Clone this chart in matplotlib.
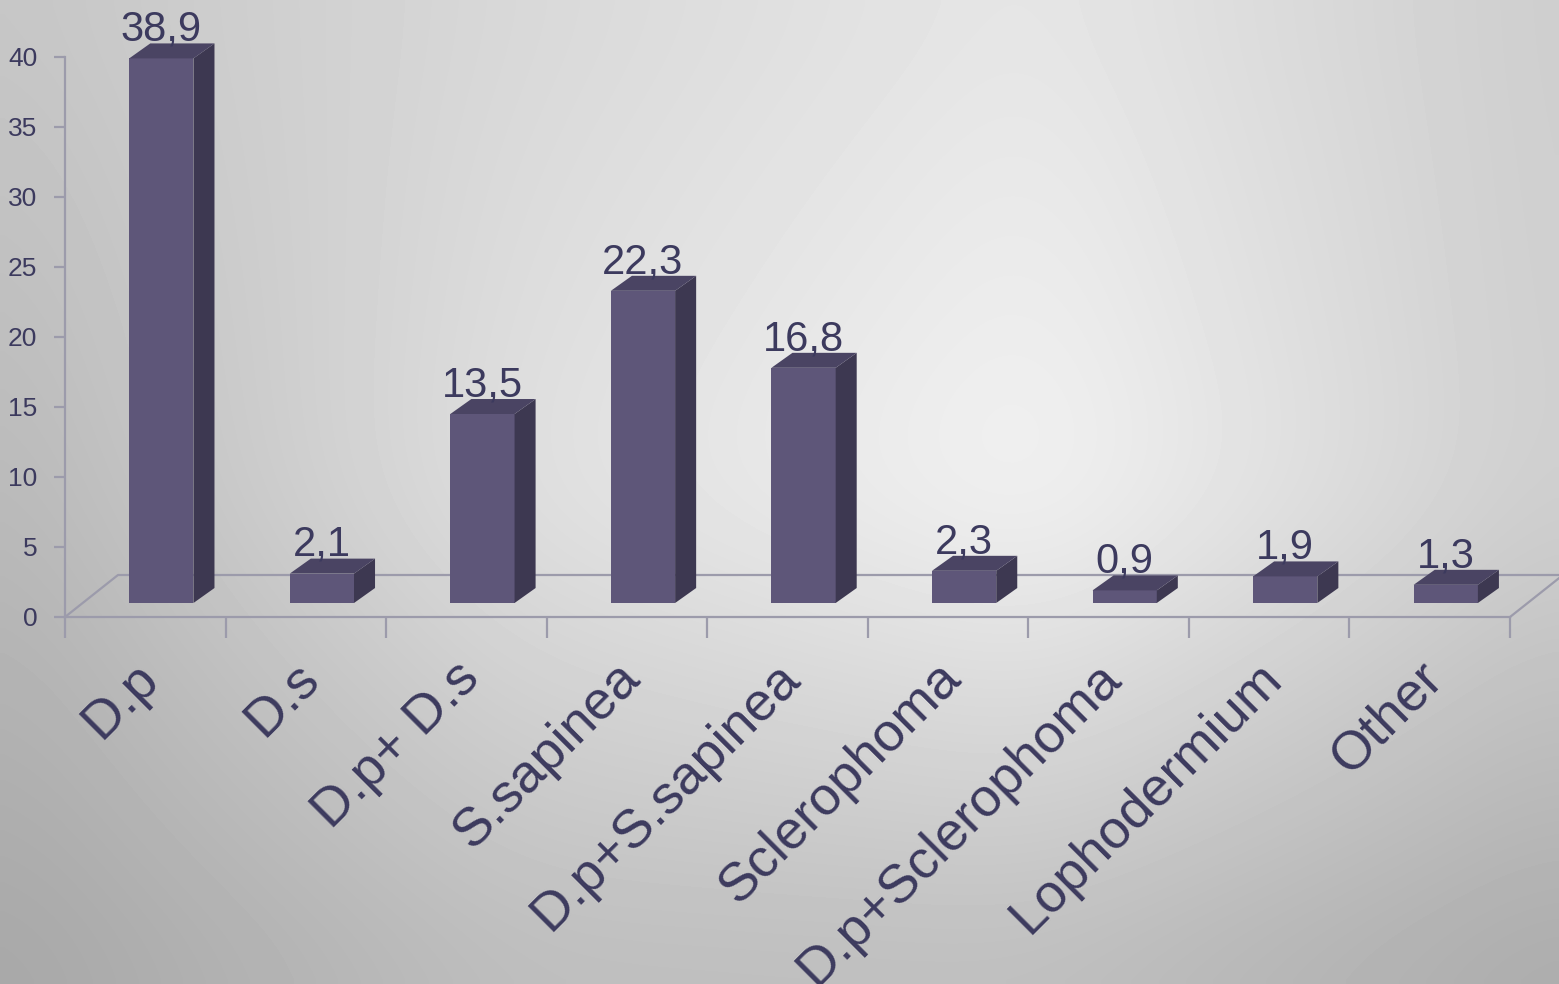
import numpy as np
import matplotlib
matplotlib.use('Agg')
import matplotlib.pyplot as plt
from matplotlib.patches import Polygon

plt.rcParams['font.family'] = ['Liberation Sans', 'DejaVu Sans']

# data
categories = ['D.p', 'D.s', 'D.p+ D.s', 'S.sapinea', 'D.p+S.sapinea',
              'Sclerophoma', 'D.p+Sclerophoma', 'Lophodermium', 'Other']
values = [38.9, 2.1, 13.5, 22.3, 16.8, 2.3, 0.9, 1.9, 1.3]
value_labels = ['38,9', '2,1', '13,5', '22,3', '16,8', '2,3', '0,9', '1,9', '1,3']
yticks = [0, 5, 10, 15, 20, 25, 30, 35, 40]

txt_color = '#3c3a5e'
front_c = '#5e5679'
side_c = '#3d3851'
top_c = '#4a4463'
line_c = '#9c9bab'

fig = plt.figure(figsize=(15.59, 9.84), dpi=100)

# background gradient (light in the middle-right, darker towards the edges)
ctrl = np.array([[198, 216, 230, 205],
                 [184, 224, 243, 206],
                 [166, 188, 188, 170]]) / 255.0
ny, nx = 120, 190
gy = np.linspace(0, ctrl.shape[0] - 1, ny)
gx = np.linspace(0, ctrl.shape[1] - 1, nx)
rows = np.array([np.interp(gx, np.arange(ctrl.shape[1]), r) for r in ctrl])
bgimg = np.array([np.interp(gy, np.arange(ctrl.shape[0]), rows[:, j]) for j in range(nx)]).T
k = np.ones(15) / 15.0
for _ in range(3):
    pad = np.pad(bgimg, 7, mode='edge')
    pad = np.apply_along_axis(lambda m: np.convolve(m, k, mode='same'), 1, pad)
    pad = np.apply_along_axis(lambda m: np.convolve(m, k, mode='same'), 0, pad)
    bgimg = pad[7:-7, 7:-7]

bg = fig.add_axes([0, 0, 1, 1])
bg.imshow(bgimg, cmap='gray', vmin=0, vmax=1, aspect='auto',
          interpolation='bilinear', extent=[0, 1, 0, 1])
bg.set_axis_off()

ax = fig.add_axes([65 / 1559, 367 / 984, 1445 / 1559, 560 / 984])
ax.patch.set_alpha(0)
ax.set_xlim(-0.5, 8.5)
ax.set_ylim(0, 40)

# 3d look parameters (data units)
base = 1.0
w = 0.4
dx = 0.131
dy = 1.07
fdx = 0.33
fdy = 3.0

# floor
ax.plot([-0.5, -0.5 + fdx, 8.5 + fdx, 8.5], [0, fdy, fdy, 0], color=line_c,
        lw=1.6, zorder=1, clip_on=False)

x = np.arange(len(categories))
ax.bar(x + 0.1, values, width=w, bottom=base, color=front_c, zorder=3)
for i, v in enumerate(values):
    x0 = i - 0.1
    x1 = i + 0.3
    side = Polygon([(x1, base), (x1 + dx, base + dy), (x1 + dx, base + v + dy), (x1, base + v)],
                   closed=True, facecolor=side_c, edgecolor='none', zorder=3, clip_on=False)
    top = Polygon([(x0, base + v), (x0 + dx, base + v + dy), (x1 + dx, base + v + dy), (x1, base + v)],
                  closed=True, facecolor=top_c, edgecolor='none', zorder=3, clip_on=False)
    ax.add_patch(side)
    ax.add_patch(top)
    ax.text(i + 0.1, base + v + dy + 0.2, value_labels[i], ha='center', va='baseline',
            fontsize=30, color=txt_color, zorder=5, clip_on=False)

# axes
for s in ['top', 'right']:
    ax.spines[s].set_visible(False)
ax.spines['left'].set_color(line_c)
ax.spines['bottom'].set_color(line_c)
ax.spines['left'].set_linewidth(1.6)
ax.spines['bottom'].set_linewidth(1.6)

ax.set_yticks(yticks)
ax.set_yticklabels([str(t) for t in yticks])
ax.tick_params(axis='y', length=8, width=1.6, color=line_c, labelsize=19,
               labelcolor=txt_color, pad=12)
ax.set_xticks(np.arange(-0.5, 9, 1.0))
ax.set_xticklabels([])
ax.tick_params(axis='x', length=15, width=1.6, color=line_c)

for i, c in enumerate(categories):
    ax.text(i + 0.03, -3.8, c, rotation=45, rotation_mode='anchor', ha='right', va='center',
            fontsize=39, color=txt_color, clip_on=False)

fig.savefig('out.png', dpi=100)
